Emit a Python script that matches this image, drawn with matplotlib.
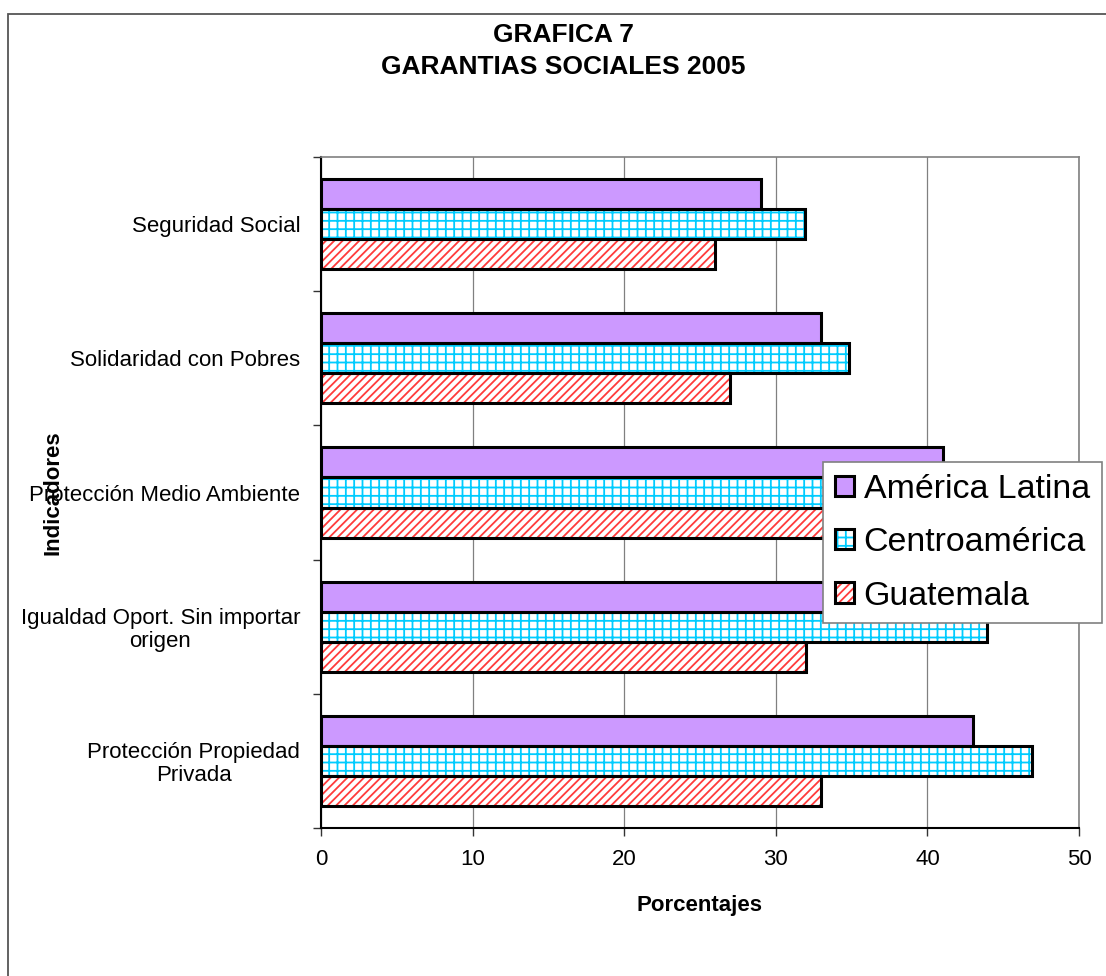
import numpy as np
import matplotlib
matplotlib.use("Agg")
import matplotlib.pyplot as plt
from matplotlib.patches import Rectangle

plt.rcParams['font.family'] = ['Liberation Sans', 'DejaVu Sans']
plt.rcParams['hatch.linewidth'] = 1.3

# Datos (de arriba hacia abajo)
indicadores = ["Seguridad Social",
               "Solidaridad con Pobres",
               "Protección Medio Ambiente",
               "Igualdad Oport. Sin importar\norigen",
               "Protección Propiedad\nPrivada"]
series = ["América Latina", "Centroamérica", "Guatemala"]
america_latina = [29, 33, 41, 40, 43]
centroamerica = [31.9, 34.8, 43, 43.9, 46.9]
guatemala = [26, 27, 35, 32, 33]
ticks_x = [0, 10, 20, 30, 40, 50]

valores = [america_latina, centroamerica, guatemala]
colores = ["#CC99FF", "white", "white"]
tramas = [None, "++", "////"]
color_trama = ["black", "#00CCFF", "#FF3B3B"]

fig = plt.figure(figsize=(11.06, 9.76), dpi=100)
ax = fig.add_axes([321/1106, 1 - 828/976, 758/1106, 671/976])

# marco exterior (solo se ven borde izquierdo y superior)
fig.patches.append(Rectangle((8/1106, -0.2), 1.2, 1.2 - 14/976, transform=fig.transFigure,
                             fill=False, edgecolor="#555555", linewidth=1.3, clip_on=False))

y = np.arange(len(indicadores))
h = 0.224
handles = []
for k, vals in enumerate(valores):
    pos = y + (k - 1) * h
    if tramas[k] is None:
        capa = ax.barh(pos, vals, height=h, color=colores[k], linewidth=0, zorder=2)
    else:
        capa = ax.barh(pos, vals, height=h, color=colores[k], edgecolor=color_trama[k],
                       hatch=tramas[k], linewidth=0, zorder=2)
    borde = ax.barh(pos, vals, height=h, fill=False, edgecolor="black", linewidth=2.2, zorder=3)
    handles.append((capa[0], borde[0]))

ax.set_ylim(len(indicadores) - 0.5, -0.5)
ax.set_xlim(0, 50)
ax.set_xticks(ticks_x)
ax.set_xticklabels([str(t) for t in ticks_x], fontsize=16)

# ticks en los límites de categoría, etiquetas en el centro
ax.set_yticks(np.arange(len(indicadores) + 1) - 0.5)
ax.set_yticklabels([])
ax.set_yticks(y, minor=True)
ax.set_yticklabels(indicadores, minor=True, fontsize=16, linespacing=1.1, ha="right",
                   multialignment="center")
ax.tick_params(axis="y", which="minor", length=0, pad=15)
ax.tick_params(axis="y", which="major", length=6, width=1, color="#333333", direction="out")
ax.tick_params(axis="x", length=6, width=1, color="#333333", pad=9)

ax.grid(axis="x", color="#808080", linewidth=0.9, zorder=0)
ax.set_axisbelow(True)
for lado in ["top", "right"]:
    ax.spines[lado].set_color("#808080")
    ax.spines[lado].set_linewidth(1.2)
for lado in ["left", "bottom"]:
    ax.spines[lado].set_color("black")
    ax.spines[lado].set_linewidth(1.5)

ax.set_xlabel("Porcentajes", fontsize=16, fontweight="bold")
ax.xaxis.set_label_coords(0.5, -0.10)
ax.set_ylabel("Indicadores", fontsize=16, fontweight="bold")
ax.yaxis.set_label_coords(-0.34, 0.5)

fig.text(563/1106, 1 - 51/976, "GRAFICA 7\nGARANTIAS SOCIALES 2005", ha="center", va="center",
         fontsize=19, fontweight="bold", linespacing=1.4)

leg = ax.legend(handles, series, loc="upper left", bbox_to_anchor=(823/1106, 1 - 462/976),
                bbox_transform=fig.transFigure, fontsize=24.4, handlelength=0.55, handleheight=0.55,
                handletextpad=0.3, labelspacing=0.66, borderpad=0.35, borderaxespad=0,
                fancybox=False, framealpha=1, edgecolor="#808080")
leg.get_frame().set_linewidth(1.2)
leg.set_zorder(5)

fig.savefig("out.png", dpi=100)
